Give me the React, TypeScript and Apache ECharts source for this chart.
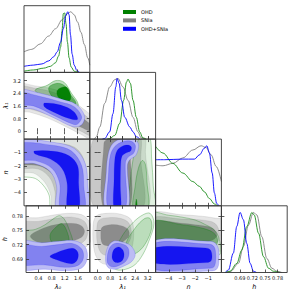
import React, { useEffect, useRef } from 'react';
import * as echarts from 'echarts';

type Pt = [number, number];

// ---------- tick values / labels ----------
const lam0Ticks = [0.4, 0.8, 1.2, 1.6];
const lam0Labels = ['0.4', '0.8', '1.2', '1.6'];
const lam1Ticks = [0, 0.8, 1.6, 2.4, 3.2];
const lam1XLabels = ['0.0', '0.8', '1.6', '2.4', '3.2'];
const lam1YLabels = ['0', '0.8', '1.6', '2.4', '3.2'];
const nTicks = [-4, -3, -2, -1];
const nLabels = ['−4', '−3', '−2', '−1'];
const hTicks = [0.69, 0.72, 0.75, 0.78];
const hLabels = ['0.69', '0.72', '0.75', '0.78'];
const varNames = ['λ₀', 'λ₁', 'n', 'h'];
const legendNames = ['OHD', 'SNIa', 'OHD+SNIa'];

// ---------- 1D marginals ----------
const lam0X_OHD = [0.02, 0.3, 0.6, 0.8, 0.95, 1.04, 1.1, 1.14, 1.18, 1.22, 1.26, 1.3, 1.35, 1.41, 1.5, 1.62];
const lam0P_OHD = [0.02, 0.04, 0.07, 0.1, 0.16, 0.27, 0.42, 0.68, 0.97, 0.98, 0.8, 0.5, 0.24, 0.09, 0.02, 0.0];
const lam0X_SN = [0.02, 0.25, 0.5, 0.75, 0.95, 1.15, 1.3, 1.4, 1.5, 1.6, 1.7, 1.8, 1.9, 1.96];
const lam0P_SN = [0.34, 0.38, 0.47, 0.6, 0.72, 0.87, 0.97, 1.0, 0.95, 0.83, 0.66, 0.46, 0.24, 0.12];
const lam0X_All = [0.02, 0.3, 0.55, 0.75, 0.9, 1.0, 1.1, 1.18, 1.25, 1.31, 1.35, 1.39, 1.44, 1.5, 1.58, 1.66];
const lam0P_All = [0.1, 0.12, 0.14, 0.19, 0.26, 0.34, 0.5, 0.72, 0.93, 1.0, 0.95, 0.62, 0.3, 0.12, 0.03, 0.0];

const lam1X_OHD = [0.6, 0.77, 1.09, 1.41, 1.66, 1.84, 1.94, 2.09, 2.26, 2.47, 2.68, 2.89, 3.1];
const lam1P_OHD = [0, 0.01, 0.06, 0.26, 0.64, 0.94, 0.99, 0.92, 0.64, 0.36, 0.12, 0.02, 0];
const lam1X_SN = [-0.2, -0.08, 0.14, 0.45, 0.77, 1.09, 1.3, 1.62, 1.94, 2.26, 2.57, 2.78, 3.0];
const lam1P_SN = [0, 0.04, 0.2, 0.59, 0.86, 0.98, 1.0, 0.86, 0.64, 0.36, 0.12, 0.02, 0];
const lam1X_All = [0.3, 0.45, 0.77, 0.98, 1.16, 1.24, 1.37, 1.52, 1.73, 2.05, 2.26, 2.47, 2.7];
const lam1P_All = [0, 0.01, 0.12, 0.42, 0.86, 1.0, 0.92, 0.64, 0.36, 0.2, 0.12, 0.04, 0];

const nX_OHD = [-5, -4.44, -3.69, -2.93, -2.17, -1.67, -1.29, -0.91, -0.53, -0.28];
const nP_OHD = [0.98, 0.87, 0.7, 0.54, 0.4, 0.32, 0.23, 0.12, 0.03, 0];
const nX_SN = [-5, -4.44, -3.69, -2.93, -2.17, -1.54, -1.16, -0.78, -0.4, 0];
const nP_SN = [0.67, 0.66, 0.7, 0.79, 0.92, 0.99, 0.96, 0.84, 0.65, 0.4];
const nX_All = [-5, -4.3, -2.93, -2.05, -1.67, -1.29, -1.11, -0.91, -0.7, -0.53, -0.36, -0.2];
const nP_All = [0.76, 0.76, 0.77, 0.77, 0.84, 0.95, 0.99, 0.87, 0.54, 0.21, 0.04, 0];

const hX_OHD = [0.655, 0.6666, 0.6827, 0.6947, 0.7067, 0.7187, 0.7242, 0.7345, 0.7465, 0.7585, 0.7705, 0.785];
const hP_OHD = [0, 0.02, 0.15, 0.37, 0.76, 0.99, 0.95, 0.65, 0.26, 0.07, 0.02, 0];
const hX_SN = [0.658, 0.668, 0.6866, 0.6985, 0.7105, 0.7225, 0.7305, 0.7425, 0.7545, 0.7666, 0.7785, 0.79];
const hP_SN = [0, 0.02, 0.15, 0.43, 0.78, 0.99, 0.95, 0.59, 0.23, 0.07, 0.02, 0];
const hX_All = [0.655, 0.6626, 0.6745, 0.6827, 0.6906, 0.6985, 0.7065, 0.7146, 0.7225, 0.73];
const hP_All = [0, 0.04, 0.32, 0.76, 0.99, 0.87, 0.48, 0.15, 0.02, 0];

// ---------- 2D contours (outer -> inner) ----------
// λ1 vs λ0
const lam1Lam0_SN: Pt[][] = [
  [[-0.2, 2.95], [0.4, 2.85], [0.9, 2.65], [1.3, 2.3], [1.6, 1.7], [2.1, 0.7], [2.1, -0.6], [1.7, -0.2], [1.2, 0.35], [0.7, 0.85], [0.2, 1.2], [-0.2, 1.35]],
  [[-0.2, 2.8], [0.4, 2.7], [0.9, 2.45], [1.3, 2.05], [1.6, 1.4], [2.1, 0.4], [2.1, -0.35], [1.7, 0.0], [1.2, 0.55], [0.7, 1.05], [0.2, 1.4], [-0.2, 1.55]],
  [[-0.2, 2.55], [0.5, 2.3], [1.1, 1.8], [1.6, 1.05], [2.1, 0.2], [2.1, -0.1], [1.7, 0.25], [1.2, 0.8], [0.6, 1.35], [-0.2, 1.85]],
];
const lam1Lam0_OHD: Pt[][] = [
  [[0.35, 2.6], [0.7, 2.9], [0.95, 3.2], [1.2, 3.1], [1.42, 2.4], [1.62, 1.7], [1.5, 1.35], [1.0, 1.75], [0.55, 2.25]],
  [[0.75, 2.75], [0.97, 3.02], [1.2, 2.9], [1.38, 2.35], [1.55, 1.75], [1.2, 1.7], [0.85, 2.2]],
  [[0.99, 2.5], [1.08, 2.72], [1.28, 2.78], [1.4, 2.2], [1.35, 1.92], [1.05, 2.12]],
];
const lam1Lam0_All: Pt[][] = [
  [[-0.2, 2.62], [0.5, 2.4], [1.1, 2.05], [1.55, 1.7], [1.8, 1.0], [1.72, 0.4], [1.45, 0.3], [0.9, 0.85], [0.3, 1.4], [-0.2, 1.55]],
  [[-0.2, 2.45], [0.5, 2.2], [1.1, 1.85], [1.5, 1.55], [1.72, 0.9], [1.6, 0.45], [1.45, 0.45], [0.9, 1.0], [0.3, 1.6], [-0.2, 1.72]],
  [[0.62, 1.78], [1.1, 1.65], [1.48, 1.25], [1.6, 0.75], [1.35, 0.8], [0.9, 1.2], [0.62, 1.55]],
];
// n vs λ0
const nLam0_SN: Pt[][] = [
  [[-0.2, 0.3], [2.2, 0.3], [2.2, -5.3], [0.9, -5.3], [0.82, -4.3], [0.72, -3.6], [0.55, -3.0], [0.3, -2.55], [-0.2, -2.35]],
  [[-0.2, -0.25], [0.9, -0.3], [1.5, -0.6], [1.78, -1.5], [1.85, -3], [1.85, -5.3], [1.0, -5.3], [0.93, -3.9], [0.78, -2.9], [0.45, -2.25], [-0.2, -2.05]],
  [[-0.2, -0.4], [0.9, -0.5], [1.45, -0.95], [1.72, -2.0], [1.76, -5.3], [1.1, -5.3], [1.03, -3.6], [0.85, -2.6], [0.45, -2.0], [-0.2, -1.8]],
];
const nLam0_OHD: Pt[][] = [
  [[-0.2, -2.6], [0.35, -2.95], [0.6, -3.5], [0.76, -4.2], [0.86, -5.3], [2.2, -5.3], [2.2, 0.3], [-0.2, 0.3]],
];
const nLam0_All: Pt[][] = [
  [[-0.2, -0.12], [0.9, -0.25], [1.5, -0.7], [1.82, -1.8], [1.9, -3.5], [1.9, -5.3], [1.0, -5.3], [0.98, -3.5], [0.78, -2.4], [0.35, -1.85], [-0.2, -1.7]],
  [[-0.2, -0.35], [0.9, -0.48], [1.42, -0.9], [1.72, -2.0], [1.78, -3.5], [1.78, -5.3], [1.12, -5.3], [1.07, -3.3], [0.85, -2.2], [0.4, -1.65], [-0.2, -1.45]],
  [[0.32, -0.9], [0.9, -0.92], [1.35, -1.25], [1.6, -2.0], [1.63, -3.3], [1.63, -5.3], [1.31, -5.3], [1.29, -3.3], [1.14, -2.2], [0.8, -1.5], [0.35, -1.12]],
];
// n vs λ1
const nLam1_SN: Pt[][] = [
  [[-0.3, 0.3], [2.9, 0.3], [3.05, -1], [3.1, -5.3], [-0.3, -5.3]],
  [[-0.15, 0.3], [2.6, 0.3], [2.75, -1.5], [2.8, -5.3], [-0.15, -5.3]],
  [[0.4, -0.3], [0.6, -0.05], [1.9, -0.05], [2.05, -0.6], [2.0, -5.3], [0.4, -5.3]],
];
const nLam1_OHD: Pt[][] = [
  [[1.95, -5.3], [2.05, -3.5], [2.25, -1.6], [2.5, -0.4], [2.75, 0.2], [3.3, 0.2], [3.45, -1.5], [3.55, -3.5], [3.6, -5.3]],
  [[2.3, -5.3], [2.4, -3.5], [2.6, -2.2], [2.85, -1.6], [3.05, -1.9], [3.15, -3.2], [3.2, -5.3]],
  [[2.42, -5.3], [2.47, -4.5], [2.53, -5.3]],
];
const nLam1_All: Pt[][] = [
  [[0.52, -5.3], [0.55, -2.5], [0.68, -1.1], [0.95, -0.35], [1.55, 0.05], [2.2, 0.05], [2.6, -0.35], [2.45, -1.2], [2.05, -1.55], [1.9, -2], [1.9, -5.3]],
  [[0.69, -5.3], [0.7, -2.5], [0.82, -1.2], [1.1, -0.55], [1.6, -0.2], [2.1, -0.15], [2.4, -0.45], [2.3, -1.05], [1.95, -1.35], [1.77, -1.8], [1.75, -5.3]],
  [[1.05, -5.3], [1.05, -3], [1.1, -1.5], [1.25, -0.85], [1.55, -0.55], [1.95, -0.45], [2.15, -0.6], [2.1, -0.9], [1.8, -1.05], [1.55, -1.3], [1.47, -2.0], [1.45, -3.5], [1.45, -5.3]],
];
// h vs λ0
const hLam0_SN: Pt[][] = [
  [[-0.2, 0.772], [0.4, 0.777], [0.9, 0.783], [1.4, 0.786], [1.8, 0.78], [2.02, 0.755], [1.95, 0.722], [1.5, 0.706], [0.9, 0.702], [0.3, 0.706], [-0.2, 0.71]],
  [[-0.2, 0.765], [0.4, 0.769], [0.9, 0.775], [1.4, 0.778], [1.78, 0.77], [1.9, 0.75], [1.8, 0.728], [1.4, 0.715], [0.8, 0.712], [0.2, 0.716], [-0.2, 0.72]],
  [[0.15, 0.738], [0.45, 0.752], [0.9, 0.762], [1.4, 0.765], [1.7, 0.76], [1.8, 0.748], [1.7, 0.735], [1.3, 0.726], [0.8, 0.722], [0.35, 0.726]],
];
const hLam0_OHD: Pt[][] = [
  [[-0.2, 0.745], [0.3, 0.752], [0.6, 0.762], [0.88, 0.776], [1.05, 0.781], [1.2, 0.772], [1.33, 0.752], [1.45, 0.725], [1.42, 0.7], [1.2, 0.69], [0.8, 0.688], [0.3, 0.692], [-0.2, 0.698]],
  [[0.75, 0.74], [0.95, 0.758], [1.12, 0.764], [1.28, 0.745], [1.32, 0.722], [1.1, 0.712], [0.85, 0.72]],
];
const hLam0_All: Pt[][] = [
  [[-0.2, 0.726], [0.5, 0.724], [1.0, 0.727], [1.5, 0.728], [1.82, 0.715], [1.88, 0.69], [1.7, 0.67], [1.2, 0.665], [0.6, 0.668], [-0.2, 0.67]],
  [[-0.2, 0.718], [0.5, 0.716], [1.0, 0.72], [1.45, 0.722], [1.72, 0.71], [1.76, 0.69], [1.6, 0.676], [1.2, 0.672], [0.6, 0.677], [-0.2, 0.68]],
  [[0.75, 0.695], [0.95, 0.703], [1.2, 0.709], [1.45, 0.712], [1.6, 0.703], [1.58, 0.688], [1.45, 0.68], [1.2, 0.682], [0.95, 0.688]],
];
// h vs λ1
const hLam1_SN: Pt[][] = [
  [[-0.3, 0.755], [-0.1, 0.78], [0.6, 0.786], [1.5, 0.784], [2.15, 0.772], [2.3, 0.74], [2.1, 0.705], [1.6, 0.685], [0.9, 0.678], [0.2, 0.682], [-0.2, 0.705]],
  [[-0.05, 0.755], [0.1, 0.772], [0.7, 0.777], [1.5, 0.775], [2.0, 0.765], [2.15, 0.74], [1.9, 0.72], [1.5, 0.705], [0.9, 0.698], [0.3, 0.7], [0.0, 0.72]],
  [[0.2, 0.745], [0.3, 0.757], [0.8, 0.762], [1.5, 0.76], [1.95, 0.752], [2.0, 0.738], [1.7, 0.728], [1.3, 0.72], [0.8, 0.717], [0.3, 0.722]],
];
const hLam1_OHD: Pt[][] = [
  [[0.8, 0.68], [1.2, 0.715], [1.7, 0.745], [2.3, 0.768], [2.9, 0.783], [3.35, 0.786], [3.6, 0.765], [3.3, 0.73], [2.9, 0.7], [2.4, 0.678], [1.8, 0.668], [1.2, 0.667]],
  [[1.8, 0.72], [2.4, 0.755], [3.0, 0.775], [3.35, 0.775], [3.45, 0.755], [3.1, 0.725], [2.6, 0.705], [2.1, 0.7]],
];
const hLam1_All: Pt[][] = [
  [[0.5, 0.69], [0.65, 0.715], [1.0, 0.727], [1.5, 0.726], [2.1, 0.718], [2.4, 0.7], [2.2, 0.685], [1.7, 0.675], [1.1, 0.668], [0.65, 0.672]],
  [[0.6, 0.69], [0.75, 0.712], [1.05, 0.722], [1.5, 0.722], [1.9, 0.715], [2.0, 0.7], [1.8, 0.685], [1.3, 0.675], [0.9, 0.673], [0.65, 0.68]],
  [[0.92, 0.695], [1.05, 0.71], [1.35, 0.715], [1.62, 0.708], [1.68, 0.695], [1.5, 0.684], [1.2, 0.682], [1.0, 0.686]],
];
// h vs n
const hN_SN: Pt[][] = [
  [[-5.3, 0.785], [-3, 0.783], [-1.5, 0.78], [-0.5, 0.776], [0.3, 0.77], [0.3, 0.71], [-2, 0.712], [-5.3, 0.712]],
  [[-5.3, 0.775], [-3, 0.774], [-1.5, 0.772], [-0.5, 0.765], [-0.15, 0.745], [-0.3, 0.725], [-1.5, 0.72], [-5.3, 0.72]],
  [[-5.3, 0.768], [-3, 0.765], [-2, 0.762], [-1, 0.758], [-0.5, 0.75], [-0.35, 0.738], [-0.8, 0.728], [-2, 0.726], [-5.3, 0.727]],
];
const hN_OHD: Pt[][] = [
  [[-5.3, 0.785], [-4, 0.782], [-3, 0.778], [-2, 0.772], [-1.2, 0.762], [-0.5, 0.75], [-0.15, 0.73], [-0.1, 0.7], [-1, 0.69], [-5.3, 0.69]],
  [[-5.3, 0.768], [-3, 0.762], [-1.5, 0.755], [-0.6, 0.745], [-0.3, 0.73], [-0.5, 0.715], [-2, 0.71], [-5.3, 0.71]],
];
const hN_All: Pt[][] = [
  [[-5.3, 0.726], [-1, 0.727], [-0.5, 0.724], [-0.22, 0.71], [-0.2, 0.68], [-0.4, 0.667], [-1, 0.664], [-5.3, 0.664]],
  [[-5.3, 0.721], [-1, 0.721], [-0.6, 0.717], [-0.45, 0.705], [-0.45, 0.683], [-0.6, 0.672], [-1, 0.67], [-5.3, 0.67]],
  [[-5.3, 0.712], [-1.2, 0.713], [-0.85, 0.709], [-0.72, 0.698], [-0.78, 0.686], [-1.1, 0.682], [-5.3, 0.682]],
];

// ---------- styling / layout ----------
const FONT = 'DejaVu Sans';
const colLeft = [24, 89.8, 155.6, 221.4];
const rowTop = [5.7, 72.4, 139.1, 205.8];
const cellW = 65.8;
const cellH = 66.7;
const xRanges: [number, number][] = [[0.02, 1.96], [-0.5, 3.7], [-5, 0], [0.646, 0.803]];
const yRanges: [number, number][] = [[0, 1.1], [-0.5, 3.72], [-5, 0], [0.661, 0.802]];
const tickSets = [lam0Ticks, lam1Ticks, nTicks, hTicks];
const xLabelSets = [lam0Labels, lam1XLabels, nLabels, hLabels];
const yLabelSets = [lam0Labels, lam1YLabels, nLabels, hLabels];

type DS = 'SNIa' | 'OHD' | 'OHD+SNIa';
const STY: Record<DS, { legend: string; line: string; fills: string[]; stroke: string }> = {
  SNIa: { legend: '#808080', line: '#808080', fills: ['#e6e6e6', '#c8c8c8', '#8c8c8c'], stroke: 'rgba(120,120,120,0.25)' },
  OHD: { legend: '#008000', line: '#1a8c1a', fills: ['rgba(0,128,0,0.11)', 'rgba(0,128,0,0.28)', 'rgba(0,128,0,0.95)'], stroke: 'rgba(0,128,0,0.5)' },
  'OHD+SNIa': { legend: '#0000ff', line: '#0000ff', fills: ['#bcbcf4', '#8282f0', '#1515f0'], stroke: 'rgba(0,0,255,0.25)' },
};

const marginals: Record<number, { name: DS; xs: number[]; ps: number[] }[]> = {
  0: [
    { name: 'SNIa', xs: lam0X_SN, ps: lam0P_SN },
    { name: 'OHD', xs: lam0X_OHD, ps: lam0P_OHD },
    { name: 'OHD+SNIa', xs: lam0X_All, ps: lam0P_All },
  ],
  1: [
    { name: 'SNIa', xs: lam1X_SN, ps: lam1P_SN },
    { name: 'OHD', xs: lam1X_OHD, ps: lam1P_OHD },
    { name: 'OHD+SNIa', xs: lam1X_All, ps: lam1P_All },
  ],
  2: [
    { name: 'SNIa', xs: nX_SN, ps: nP_SN },
    { name: 'OHD', xs: nX_OHD, ps: nP_OHD },
    { name: 'OHD+SNIa', xs: nX_All, ps: nP_All },
  ],
  3: [
    { name: 'SNIa', xs: hX_SN, ps: hP_SN },
    { name: 'OHD', xs: hX_OHD, ps: hP_OHD },
    { name: 'OHD+SNIa', xs: hX_All, ps: hP_All },
  ],
};

const contours: Record<string, { name: DS; polys: Pt[][]; fills?: string[] }[]> = {
  '1-0': [
    { name: 'SNIa', polys: lam1Lam0_SN },
    { name: 'OHD', polys: lam1Lam0_OHD, fills: ['rgba(0,128,0,0.25)', 'rgba(0,128,0,0.45)', 'rgba(0,128,0,0.95)'] },
    { name: 'OHD+SNIa', polys: lam1Lam0_All },
  ],
  '2-0': [
    { name: 'SNIa', polys: nLam0_SN },
    { name: 'OHD', polys: nLam0_OHD, fills: ['rgba(0,128,0,0.03)'] },
    { name: 'OHD+SNIa', polys: nLam0_All },
  ],
  '2-1': [
    { name: 'SNIa', polys: nLam1_SN },
    { name: 'OHD', polys: nLam1_OHD, fills: ['rgba(0,128,0,0.12)', 'rgba(0,128,0,0.18)', 'rgba(0,128,0,0.9)'] },
    { name: 'OHD+SNIa', polys: nLam1_All },
  ],
  '3-0': [{ name: 'SNIa', polys: hLam0_SN }, { name: 'OHD', polys: hLam0_OHD }, { name: 'OHD+SNIa', polys: hLam0_All }],
  '3-1': [{ name: 'SNIa', polys: hLam1_SN }, { name: 'OHD', polys: hLam1_OHD, fills: ['rgba(0,128,0,0.1)', 'rgba(0,128,0,0.18)'] }, { name: 'OHD+SNIa', polys: hLam1_All }],
  '3-2': [{ name: 'SNIa', polys: hN_SN }, { name: 'OHD', polys: hN_OHD }, { name: 'OHD+SNIa', polys: hN_All }],
};

function fmt(ticks: number[], labels: string[]) {
  return (v: number) => {
    const k = ticks.findIndex((t) => Math.abs(t - v) < 1e-6);
    return k >= 0 ? labels[k] : '';
  };
}

const tickBase = { inside: true, length: 3, lineStyle: { color: '#333', width: 0.8 } };
const nameStyle = { fontSize: 6.5, fontStyle: 'italic', fontFamily: FONT, color: '#000' };
const labelStyle = { fontSize: 5, fontFamily: FONT, color: '#111' };

function buildOption() {
  const grid: any[] = [];
  const xAxis: any[] = [];
  const yAxis: any[] = [];
  const series: any[] = [];
  const lineSeries: any[] = [];

  for (let i = 0; i < 4; i++) {
    for (let j = 0; j <= i; j++) {
      const g = grid.length;
      grid.push({
        left: colLeft[j], top: rowTop[i], width: cellW, height: cellH,
        show: true, borderColor: '#333', borderWidth: 0.9, backgroundColor: 'rgba(0,0,0,0)', z: 10,
      });
      const xi = xAxis.length;
      const yi = yAxis.length;
      const bottomRow = i === 3;
      xAxis.push({
        type: 'value', gridIndex: g, position: 'bottom', min: xRanges[j][0], max: xRanges[j][1],
        axisLine: { show: false }, splitLine: { show: false }, z: 10,
        axisTick: { ...tickBase, customValues: tickSets[j] },
        axisLabel: { show: bottomRow, customValues: tickSets[j], formatter: fmt(tickSets[j], xLabelSets[j]), margin: 3, ...labelStyle },
        name: bottomRow ? varNames[j] : '', nameLocation: 'middle', nameGap: 11, nameTextStyle: nameStyle,
      });
      if (i === j) {
        yAxis.push({ type: 'value', gridIndex: g, min: 0, max: 1.1, show: false });
        marginals[i].forEach((m) => {
          lineSeries.push({
            type: 'line', name: m.name, xAxisIndex: xi, yAxisIndex: yi,
            data: m.xs.map((x, k) => [x, m.ps[k]]),
            symbol: 'none', showSymbol: false, smooth: 0.35, smoothMonotone: 'x', clip: true, silent: true,
            lineStyle: { color: STY[m.name].line, width: 0.9 }, itemStyle: { color: STY[m.name].legend }, z: 3,
          });
        });
      } else {
        const leftCol = j === 0;
        yAxis.push({
          type: 'value', gridIndex: g, position: 'left', min: yRanges[i][0], max: yRanges[i][1],
          axisLine: { show: false }, splitLine: { show: false }, z: 10,
          axisTick: { ...tickBase, customValues: tickSets[i] },
          axisLabel: { show: leftCol, customValues: tickSets[i], formatter: fmt(tickSets[i], yLabelSets[i]), margin: 3, ...labelStyle },
          name: leftCol ? varNames[i] : '', nameLocation: 'middle', nameGap: 13.5, nameRotate: 90, nameTextStyle: nameStyle,
        });
        xAxis.push({
          type: 'value', gridIndex: g, position: 'top', min: xRanges[j][0], max: xRanges[j][1],
          axisLine: { show: false }, splitLine: { show: false }, z: 10,
          axisTick: { ...tickBase, customValues: tickSets[j] }, axisLabel: { show: false },
        });
        yAxis.push({
          type: 'value', gridIndex: g, position: 'right', min: yRanges[i][0], max: yRanges[i][1],
          axisLine: { show: false }, splitLine: { show: false }, z: 10,
          axisTick: { ...tickBase, customValues: tickSets[i] }, axisLabel: { show: false },
        });
        contours[`${i}-${j}`].forEach((c) => {
          const st = STY[c.name];
          const fills = c.fills || st.fills;
          const polys = c.polys;
          series.push({
            type: 'custom', name: c.name, xAxisIndex: xi, yAxisIndex: yi, clip: true, silent: true, z: 2,
            dimensions: ['x', 'y', 'lvl'], encode: { x: 0, y: 1 },
            itemStyle: { color: st.legend },
            data: polys.map((_, k) => [xRanges[j][0], yRanges[i][0], k]),
            renderItem: (_p: any, api: any) => {
              const k = api.value(2) as number;
              const pts = polys[k].map((pt) => api.coord(pt));
              return {
                type: 'polygon',
                shape: { points: pts, smooth: 0.35 },
                style: { fill: fills[k], stroke: st.stroke, lineWidth: 0.6 },
              };
            },
          });
        });
      }
    }
  }

  return {
    animation: false,
    textStyle: { fontFamily: FONT },
    legend: {
      left: 118, top: 4, orient: 'vertical', itemWidth: 13, itemHeight: 4, itemGap: 2.4,
      selectedMode: false, z: 20,
      textStyle: { fontSize: 5, fontFamily: FONT, color: '#000', lineHeight: 6 },
      data: legendNames.map((n) => ({ name: n, icon: 'rect', itemStyle: { color: STY[n as DS].legend } })),
    },
    grid, xAxis, yAxis,
    series: [...series, ...lineSeries],
  };
}

export default function App() {
  const ref = useRef<HTMLDivElement>(null);
  useEffect(() => {
    if (!ref.current) return;
    const chart = echarts.init(ref.current, undefined, { renderer: 'svg' });
    chart.setOption(buildOption() as any);
    return () => chart.dispose();
  }, []);
  return (
    <div
      ref={ref}
      style={{ position: 'fixed', left: 0, top: 0, width: 291, height: 293, background: '#fff' }}
    />
  );
}
